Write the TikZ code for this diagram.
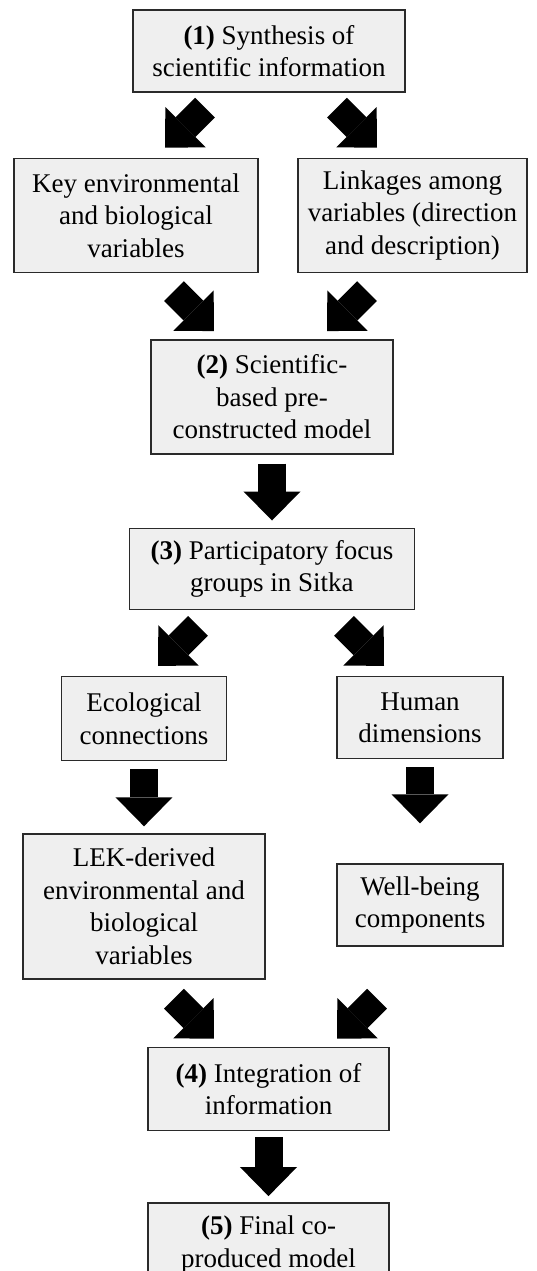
\documentclass[tikz,border=0pt]{standalone}
\usepackage{fontspec}
\setmainfont{Liberation Serif}
\usetikzlibrary{arrows.meta,positioning}
\definecolor{boxfill}{HTML}{EFEFEF}
\definecolor{boxline}{HTML}{2A2A2A}

\begin{document}
\begin{tikzpicture}[node distance=65pt,
 box/.style={draw=boxline,line width=1.4pt,fill=boxfill,align=center,
 minimum height=82pt,inner sep=4pt,font=\fontsize{27}{32.5}\selectfont},
 fat/.style={line width=28pt,-{Triangle[length=29pt,width=57pt,line width=0pt]}}]
\useasboundingbox (-269pt,51pt) rectangle (267pt,-1220pt);
\node[box,minimum width=272pt] (syn) {\textbf{(1)} Synthesis of\\scientific information};
\node[box,minimum width=244pt,minimum height=114pt,below=65pt of syn,xshift=-133pt] (key)
 {Key environmental\\and biological\\variables};
\node[box,minimum width=229pt,minimum height=114pt,below=65pt of syn,xshift=143.5pt] (link)
 {Linkages among\\variables (direction\\and description)};
\node[box,minimum width=242pt,minimum height=114pt,below=66pt of key,xshift=136pt] (pre)
 {\textbf{(2)} Scientific-\\based pre-\\constructed model};
\node[box,minimum width=285pt,minimum height=81pt,below=73pt of pre] (focus)
 {\textbf{(3)} Participatory focus\\groups in Sitka};
\node[box,minimum width=165pt,minimum height=84pt,below=66pt of focus,xshift=-128pt] (eco)
 {Ecological\\connections};
\node[box,minimum width=166pt,below=66pt of focus,xshift=148pt] (hum)
 {Human\\dimensions};
\node[box,minimum width=242pt,minimum height=145pt,below=72pt of eco] (lek)
 {LEK-derived\\environmental and\\biological\\variables};
\node[box,minimum width=166pt,below=104pt of hum] (well)
 {Well-being\\components};
\node[box,minimum width=241pt,minimum height=83pt,below=67pt of lek,xshift=124.5pt] (integ)
 {\textbf{(4)} Integration of\\information};
\node[box,minimum width=241pt,minimum height=83pt,below=71pt of integ] (final)
 {\textbf{(5)} Final co-\\produced model};
% block arrows between the steps
\draw[fat] ([shift={(-64pt,-15pt)}]syn.south) -- ([shift={(29pt,10pt)}]key.north);
\draw[fat] ([shift={(68pt,-15pt)}]syn.south) -- ([shift={(-35.5pt,10pt)}]link.north);
\draw[fat] ([shift={(38pt,-18pt)}]key.south) -- ([shift={(-58pt,8pt)}]pre.north);
\draw[fat] ([shift={(-45.5pt,-18pt)}]link.south) -- ([shift={(55pt,8pt)}]pre.north);
\draw[fat] ([yshift=-9pt]pre.south) -- ([yshift=7pt]focus.north);
\draw[fat] ([shift={(-74pt,-16pt)}]focus.south) -- ([shift={(14pt,10pt)}]eco.north);
\draw[fat] ([shift={(72pt,-16pt)}]focus.south) -- ([shift={(-36pt,10pt)}]hum.north);
\draw[fat] ([yshift=-8pt]eco.south) -- ([yshift=7pt]lek.north);
\draw[fat] ([yshift=-8pt]hum.south) -- ([yshift=40pt]well.north);
\draw[fat] ([shift={(30pt,-19pt)}]lek.south) -- ([shift={(-54.5pt,8pt)}]integ.north);
\draw[fat] ([shift={(-43pt,-52pt)}]well.south) -- ([shift={(68.5pt,8pt)}]integ.north);
\draw[fat] ([yshift=-6pt]integ.south) -- ([yshift=6pt]final.north);
\end{tikzpicture}
\end{document}
